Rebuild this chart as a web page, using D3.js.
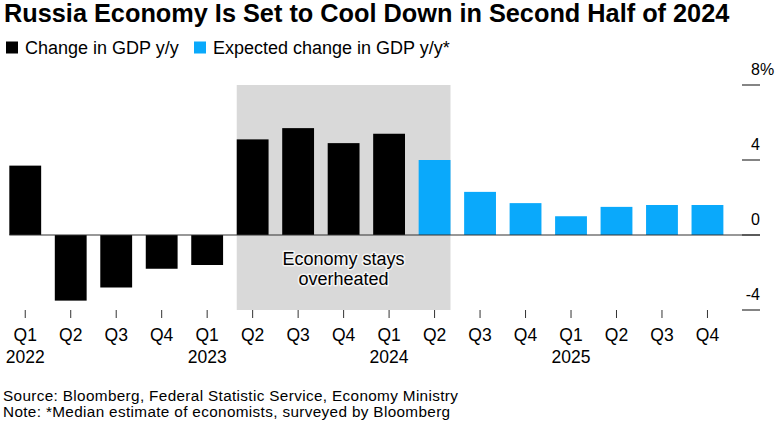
<!DOCTYPE html>
<html>
<head>
<meta charset="utf-8">
<script src="https://cdn.jsdelivr.net/npm/d3@7"></script>
<style>
  html, body { margin: 0; padding: 0; background: #fff; }
  svg { display: block; font-family: "Liberation Sans", Arial, Helvetica, sans-serif; }
</style>
</head>
<body>
<svg id="chart" width="780" height="432"></svg>
<script>
// ---- data ----
const quarters = ["Q1","Q2","Q3","Q4","Q1","Q2","Q3","Q4","Q1","Q2","Q3","Q4","Q1","Q2","Q3","Q4"];
const years    = ["2022","","","","2023","","","","2024","","","","2025","","",""];
const gdpActual   = [3.7, -3.5, -2.8, -1.8, -1.6, 5.1, 5.7, 4.9, 5.4];   // Q1 2022 .. Q1 2024
const gdpExpected = [4.0, 2.3, 1.7, 1.0, 1.5, 1.6, 1.6];                // Q2 2024 .. Q4 2025
const yTicks = [-4, 0, 4, 8];
const shadeFrom = 5, shadeTo = 9;   // Q2 2023 .. Q2 2024
const title = "Russia Economy Is Set to Cool Down in Second Half of 2024";
const legendLabels = ["Change in GDP y/y", "Expected change in GDP y/y*"];
const annotation = ["Economy stays", "overheated"];
const footer = ["Source: Bloomberg, Federal Statistic Service, Economy Ministry",
                "Note: *Median estimate of economists, surveyed by Bloomberg"];

const BLACK = "#000000", BLUE = "#0aa9fb", SHADE = "#d9d9d9";

const data = quarters.map((q, i) => ({
  i, q, year: years[i],
  value: i < gdpActual.length ? gdpActual[i] : gdpExpected[i - gdpActual.length],
  expected: i >= gdpActual.length
}));

const svg = d3.select("#chart");

const x = d3.scaleBand().domain(d3.range(quarters.length))
  .range([2.5, 730.2]).paddingInner(0.3).paddingOuter(0.15);
const y = d3.scaleLinear().domain([-4, 8]).range([310, 85]);

// title
svg.append("text").attr("x", 4).attr("y", 22)
  .attr("font-size", 25.3).attr("font-weight", "bold").attr("fill", "#000")
  .text(title);

// legend
const leg = [{c: BLACK, x: 6}, {c: BLUE, x: 194}];
leg.forEach((l, k) => {
  svg.append("rect").attr("x", l.x).attr("y", 41.5).attr("width", 12).attr("height", 12).attr("fill", l.c);
  svg.append("text").attr("x", l.x + 19).attr("y", 53.5).attr("font-size", 18).attr("fill", "#000")
    .text(legendLabels[k]);
});

// shaded region
svg.append("rect")
  .attr("x", x(shadeFrom))
  .attr("width", x(shadeTo) + x.bandwidth() - x(shadeFrom))
  .attr("y", y(8)).attr("height", y(-4) - y(8))
  .attr("fill", SHADE);

// annotation (one text, two lines)
const ax = x(shadeFrom) + (x(shadeTo) + x.bandwidth() - x(shadeFrom)) / 2;
const ann = svg.append("text").attr("x", ax).attr("y", 265)
  .attr("text-anchor", "middle").attr("font-size", 18).attr("fill", "#000")
  .attr("stroke", "#f4f4f4").attr("stroke-width", 3).attr("paint-order", "stroke")
  .attr("stroke-linejoin", "round");
annotation.forEach((t, k) => {
  ann.append("tspan").attr("x", ax).attr("dy", k === 0 ? 0 : 19.5).text(t);
});

// bars
svg.append("g").selectAll("rect").data(data).join("rect")
  .attr("x", d => x(d.i))
  .attr("width", x.bandwidth())
  .attr("y", d => y(Math.max(0, d.value)))
  .attr("height", d => Math.abs(y(d.value) - y(0)))
  .attr("fill", d => d.expected ? BLUE : BLACK);

// y axis ticks (right)
yTicks.forEach(v => {
  svg.append("line").attr("x1", 742).attr("x2", 760)
    .attr("y1", y(v)).attr("y2", y(v)).attr("stroke", "#333").attr("stroke-width", 1.2);
  svg.append("text").attr("x", 760).attr("y", y(v) - 10)
    .attr("text-anchor", "end").attr("font-size", 16).attr("fill", "#000")
    .text(v < 0 ? "-" + Math.abs(v) : v);
  if (v === d3.max(yTicks)) {
    svg.append("text").attr("x", 760).attr("y", y(v) - 10)
      .attr("font-size", 16).attr("fill", "#000").text("%");
  }
});

// zero line
svg.append("line").attr("x1", x(0)).attr("x2", 760)
  .attr("y1", y(0)).attr("y2", y(0)).attr("stroke", "#333").attr("stroke-width", 1.2);

// x axis ticks & labels
const xg = svg.append("g");
data.forEach(d => {
  const cx = x(d.i) + x.bandwidth() / 2;
  xg.append("line").attr("x1", cx).attr("x2", cx).attr("y1", 310).attr("y2", 318)
    .attr("stroke", "#333").attr("stroke-width", 1);
  const t = xg.append("text").attr("x", cx).attr("y", 341).attr("text-anchor", "middle")
    .attr("font-size", 17.5).attr("fill", "#000");
  t.append("tspan").attr("x", cx).text(d.q);
  if (d.year) t.append("tspan").attr("x", cx).attr("dy", 22).text(d.year);
});

// footer (one text, two lines)
const ft = svg.append("text").attr("x", 3).attr("y", 400.5)
  .attr("font-size", 15.3).attr("letter-spacing", 0.35).attr("fill", "#000");
footer.forEach((t, k) => {
  ft.append("tspan").attr("x", 3).attr("dy", k === 0 ? 0 : 16.8).text(t);
});
</script>
</body>
</html>
